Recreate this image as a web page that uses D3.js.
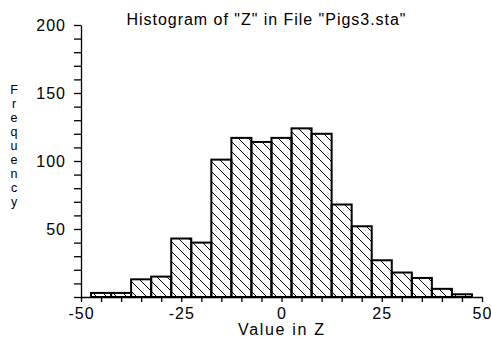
<!DOCTYPE html>
<html>
<head>
<meta charset="utf-8">
<script src="https://cdn.jsdelivr.net/npm/d3@7"></script>
<style>
  body { margin: 0; background: #fff; }
  svg { display: block; }
  text { font-family: Arial, "Liberation Sans", sans-serif; fill: #000; }
</style>
</head>
<body>
<div id="chart"></div>
<script>
// Histogram data: bin centres and counts
const binCenters = [-45, -40, -35, -30, -25, -20, -15, -10, -5, 0, 5, 10, 15, 20, 25, 30, 35, 40, 45];
const counts = [3, 3, 13, 15, 43, 40, 101, 117, 114, 117, 124, 120, 68, 52, 27, 18, 14, 6, 2];
const binWidth = 5;
const xTickLabels = [-50, -25, 0, 25, 50];
const yTickLabels = [50, 100, 150, 200];

const width = 491, height = 341;

const svg = d3.select("#chart").append("svg")
    .attr("width", width)
    .attr("height", height);

// Hatch pattern
const defs = svg.append("defs");
defs.append("pattern")
    .attr("id", "hatch")
    .attr("patternUnits", "userSpaceOnUse")
    .attr("width", 10)
    .attr("height", 10)
    .append("path")
    .attr("d", "M-5,5 L5,15 M0,0 L10,10 M5,-5 L15,5")
    .attr("stroke", "#000")
    .attr("stroke-width", 1);

const x = d3.scaleLinear().domain([-50, 50]).range([81, 482]);
const y = d3.scaleLinear().domain([0, 200]).range([297, 25]);

// Bars
svg.append("g")
    .selectAll("rect")
    .data(binCenters.map((c, i) => ({ c, n: counts[i] })))
    .join("rect")
    .attr("x", d => x(d.c - binWidth / 2))
    .attr("y", d => y(d.n))
    .attr("width", d => x(d.c + binWidth / 2) - x(d.c - binWidth / 2))
    .attr("height", d => y(0) - y(d.n))
    .attr("fill", "url(#hatch)")
    .attr("stroke", "#000")
    .attr("stroke-width", 2);

// Y axis
const yAxis = d3.axisLeft(y)
    .tickValues(d3.range(0, 201, 10))
    .tickSize(7)
    .tickSizeOuter(0)
    .tickPadding(8)
    .tickFormat(d => yTickLabels.includes(d) ? d : "");

svg.append("g")
    .attr("transform", `translate(${x(-50)},0)`)
    .call(yAxis)
    .call(g => g.selectAll("text").attr("font-size", 16).attr("font-family", null)
        .attr("letter-spacing", 1))
    .call(g => g.selectAll("line,path").attr("stroke", "#000").attr("stroke-width", 1.3));

// X axis
const xAxis = d3.axisBottom(x)
    .tickValues(d3.range(-50, 51, 5))
    .tickSize(5)
    .tickSizeOuter(0)
    .tickPadding(6)
    .tickFormat(d => xTickLabels.includes(d) ? d : "");

svg.append("g")
    .attr("transform", `translate(0,${y(0)})`)
    .call(xAxis)
    .call(g => g.selectAll("text").attr("font-size", 16).attr("font-family", null)
        .attr("letter-spacing", 1))
    .call(g => g.selectAll("line,path").attr("stroke", "#000").attr("stroke-width", 1.3));

// Title
svg.append("text")
    .attr("x", 266)
    .attr("y", 25)
    .attr("text-anchor", "middle")
    .attr("font-size", 16)
    .attr("textLength", 279)
    .attr("lengthAdjust", "spacing")
    .text('Histogram of "Z" in File "Pigs3.sta"');

// X label
svg.append("text")
    .attr("x", 281)
    .attr("y", 335)
    .attr("text-anchor", "middle")
    .attr("font-size", 16)
    .attr("textLength", 86)
    .attr("lengthAdjust", "spacing")
    .text("Value in Z");

// Y label, stacked letters
const yLabel = "Frequency".split("");
svg.append("g")
    .selectAll("text")
    .data(yLabel)
    .join("text")
    .attr("font-size", 12.5)
    .attr("text-anchor", "middle")
    .attr("x", 14)
    .attr("y", (d, i) => 94 + i * 14)
    .text(d => d);
</script>
</body>
</html>
